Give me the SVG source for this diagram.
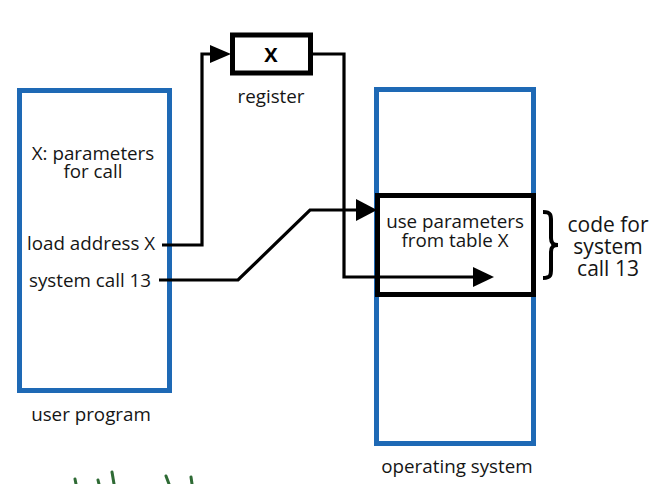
<svg xmlns="http://www.w3.org/2000/svg" width="669" height="484" viewBox="0 0 669 484">
<style>
.blue{fill:none;stroke:#1e69b5;stroke-width:5}
.blk{fill:#fff;stroke:#000;stroke-width:5}
.ln{fill:none;stroke:#000;stroke-width:3.2;stroke-linejoin:miter}
.ah{fill:#000}
text{font-family:"Open Sans","Noto Sans","Liberation Sans",sans-serif;fill:#151515;font-weight:500}
.t{font-size:18.8px}
.c{text-anchor:middle}
.big{font-size:21px}
.g{fill:none;stroke:#2f6b35;stroke-width:3;stroke-linecap:round}
</style>
<rect width="669" height="484" fill="#fff"/>
<g id="user-program">
<rect class="blue" x="19.5" y="90.5" width="150" height="300"/>
<text class="t c" x="93" y="160">X: parameters</text>
<text class="t c" x="93" y="178">for call</text>
<text class="t" x="27" y="250">load address X</text>
<text class="t" x="29" y="287">system call 13</text>
<text class="t c" x="91" y="421">user program</text>
</g>
<g id="operating-system">
<rect class="blue" x="376.5" y="89.5" width="157" height="354"/>
<text class="t c" x="457" y="473">operating system</text>
</g>
<g id="register">
<rect class="blk" x="232.5" y="35" width="78" height="38"/>
<text class="c" x="271" y="62" style="font-size:20px;font-weight:bold;fill:#000">X</text>
<text class="t c" x="271" y="103">register</text>
</g>
<g id="syscall-code">
<rect class="blk" x="377.5" y="195.5" width="156" height="99"/>
<text class="t c" x="455" y="228">use parameters</text>
<text class="t c" x="455" y="247">from table X</text>
</g>
<g id="code-label">
<path d="M543 212 C552 212 551 216 551 224 L551 238 C551 243 553 245 558 245 C553 245 551 247 551 252 L551 266 C551 274 552 278 543 278" fill="none" stroke="#000" stroke-width="4"/>
<text class="big c" x="608" y="232">code for</text>
<text class="big c" x="608" y="254">system</text>
<text class="big c" x="608" y="276">call 13</text>
</g>
<g id="connectors">
<path class="ln" d="M162 245 H202 V54 H214"/>
<polygon class="ah" points="210,45 231,54 210,63"/>
<path class="ln" d="M311 54 H344 V277 H476"/>
<polygon class="ah" points="473,267 494,277 473,287"/>
<path class="ln" d="M159 280 H238 L310 210 H360"/>
<polygon class="ah" points="356,199 377,210 356,221"/>
</g>
<g id="scribbles">
<path class="g" d="M75 479 L76 484"/>
<path class="g" d="M98 480 L99 484"/>
<path class="g" d="M112 472 L114 484"/>
<path class="g" d="M166 476 L169 484"/>
<path class="g" d="M191 477 L192 484"/>
</g>
</svg>
